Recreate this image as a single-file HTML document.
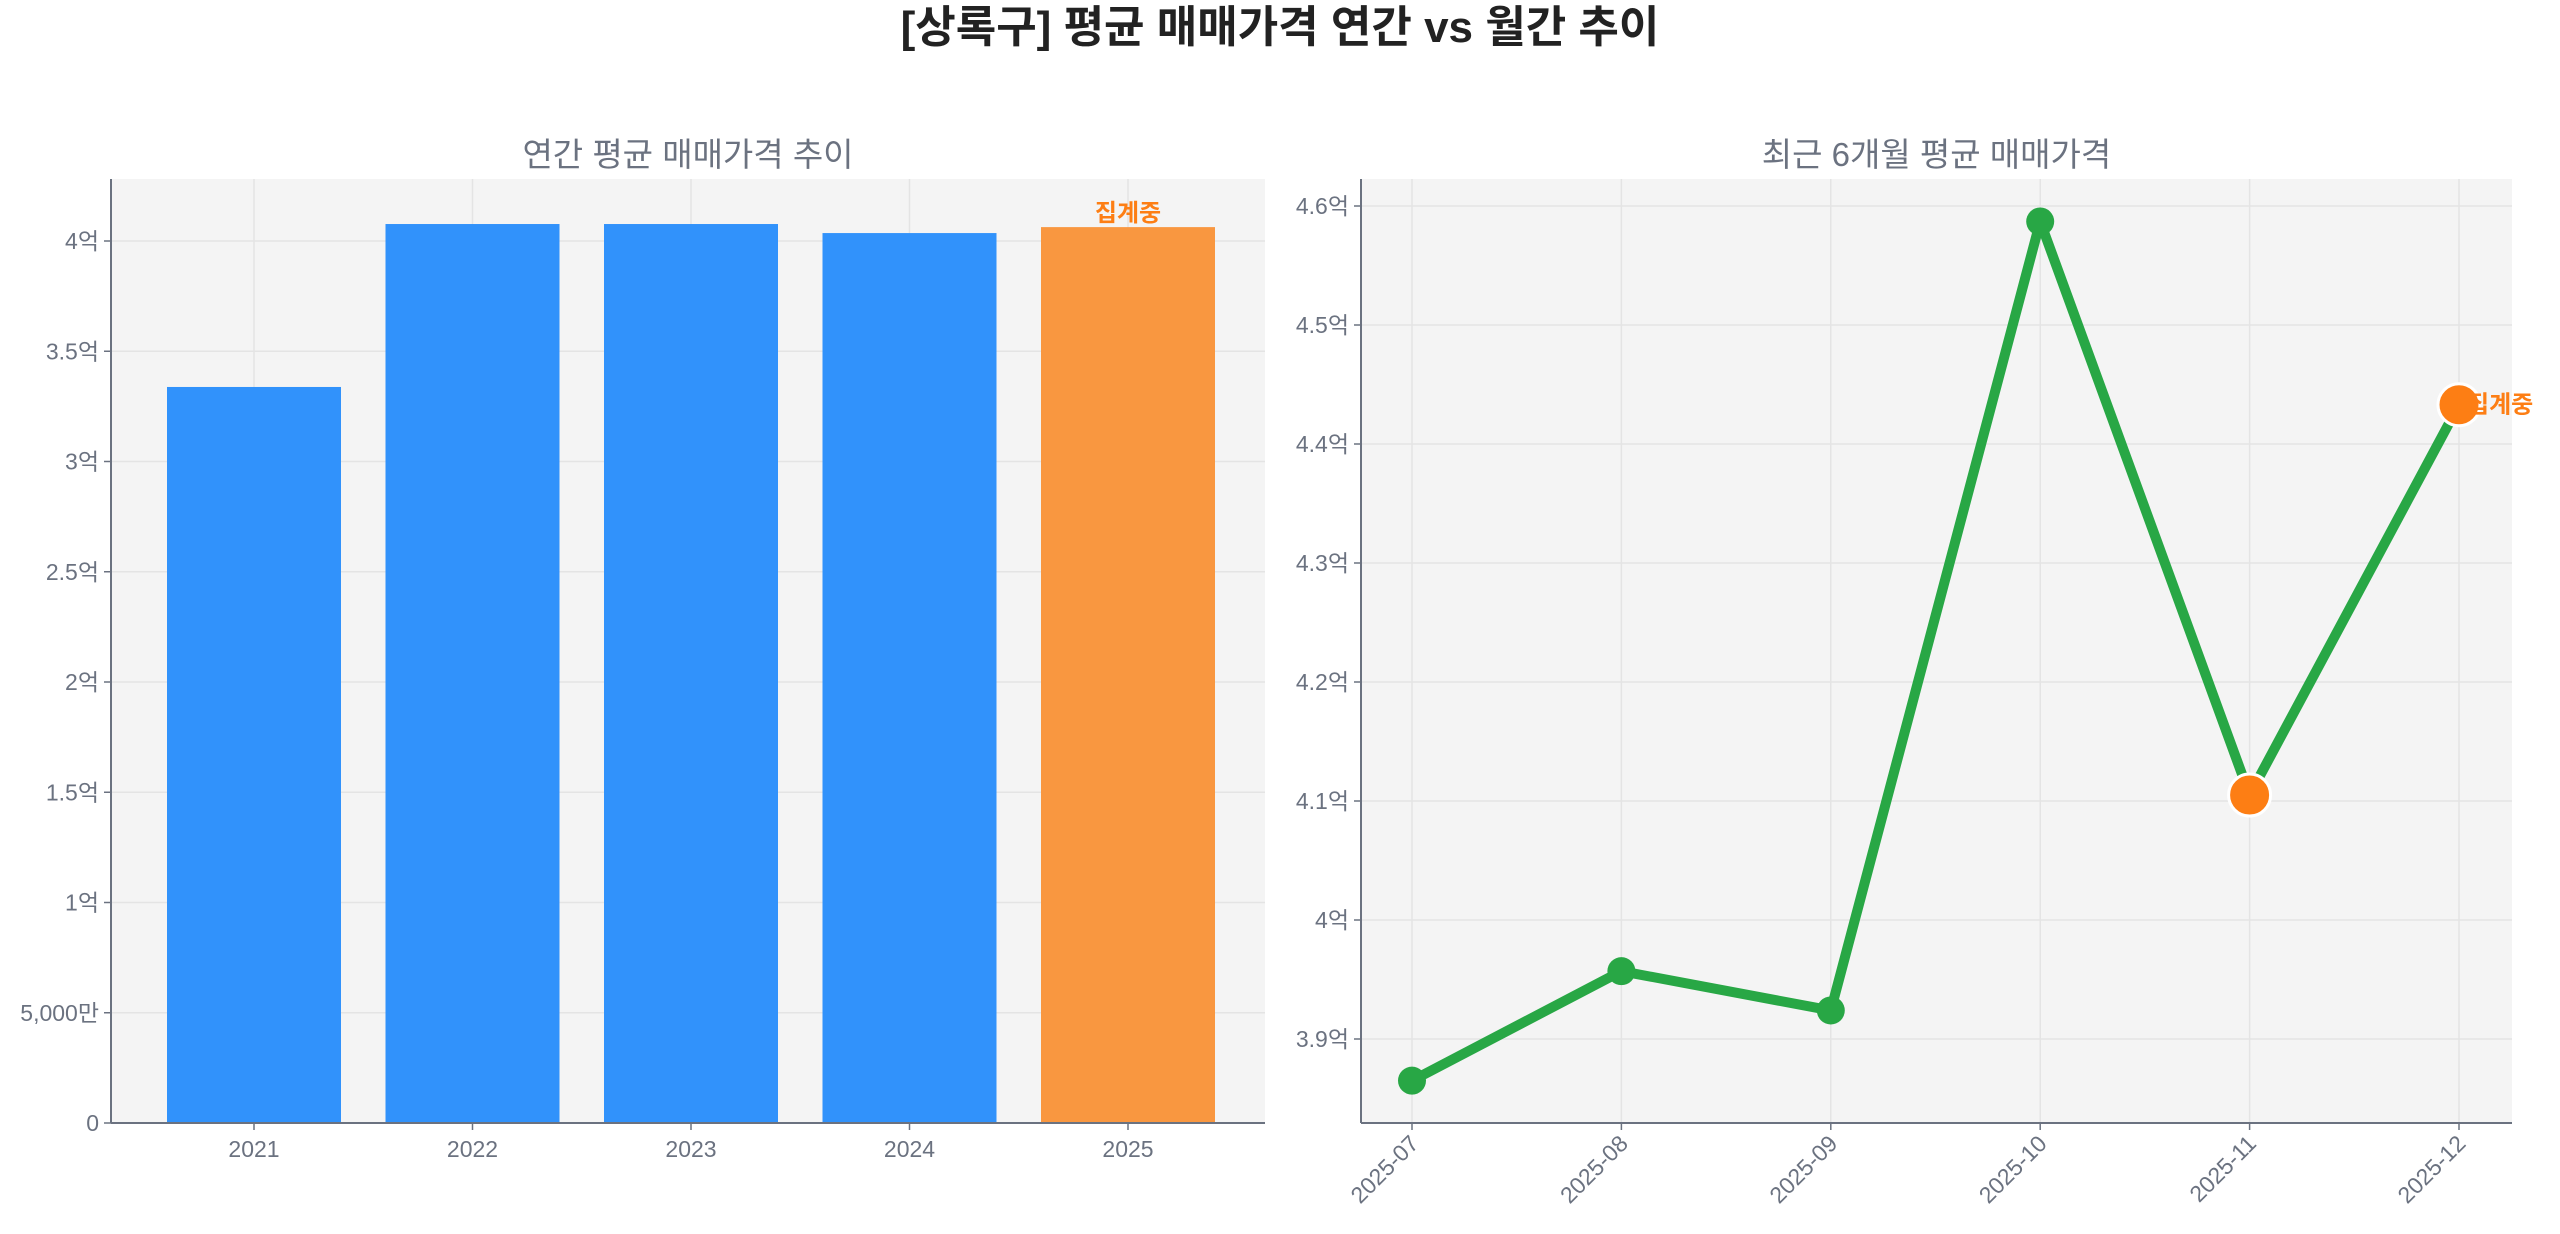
<!DOCTYPE html>
<html><head><meta charset="utf-8"><style>
html,body{margin:0;padding:0;background:#fff;width:2560px;height:1234px;overflow:hidden}
text{font-family:"Liberation Sans","Noto Sans CJK KR",sans-serif}
</style></head><body>
<svg id="chart" width="2560" height="1234" xmlns="http://www.w3.org/2000/svg"></svg>
<script>
const yearCats=["2021","2022","2023","2024","2025"];
const yearVals=[3.338,4.077,4.077,4.036,4.063];
const yearTicks=[0,0.5,1,1.5,2,2.5,3,3.5,4];
const yearTickLabels=["0","5,000만","1억","1.5억","2억","2.5억","3억","3.5억","4억"];
const monthCats=["2025-07","2025-08","2025-09","2025-10","2025-11","2025-12"];
const monthVals=[3.865,3.957,3.924,4.587,4.105,4.433];
const monthPartial=[false,false,false,false,true,true];
const monthTicks=[3.9,4.0,4.1,4.2,4.3,4.4,4.5,4.6];
const monthTickLabels=["3.9억","4억","4.1억","4.2억","4.3억","4.4억","4.5억","4.6억"];

const svg=document.getElementById('chart');
const NS="http://www.w3.org/2000/svg";
function el(tag,attrs,parent){const e=document.createElementNS(NS,tag);for(const k in attrs)e.setAttribute(k,attrs[k]);(parent||svg).appendChild(e);return e;}
function txt(s,attrs,parent){const t=el('text',attrs,parent);t.textContent=s;return t;}

const title=txt("[상록구] 평균 매매가격 연간 vs 월간 추이",{x:1280,y:42,'text-anchor':'middle','font-size':44,'font-weight':'bold',fill:'#222'});



// LEFT
const L={x0:111,x1:1265,y0:179,y1:1123};
const lx=i=>254+i*218.5;
const ly=v=>L.y1-v*220.5;
const g1=el('g',{});


el('rect',{x:L.x0,y:L.y0,width:L.x1-L.x0,height:L.y1-L.y0,fill:'#f4f4f4'},g1);
yearTicks.forEach((v,i)=>{
  el('line',{x1:L.x0,x2:L.x1,y1:ly(v),y2:ly(v),stroke:'#e4e4e4','stroke-width':1.5},g1);
  el('line',{x1:L.x0-7,x2:L.x0,y1:ly(v),y2:ly(v),stroke:'#6b7280','stroke-width':1.5},g1);
  const t=txt(yearTickLabels[i],{x:L.x0-12,y:ly(v)+8,'text-anchor':'end','font-size':23,fill:'#6b7280'},g1);
  
  
});
yearCats.forEach((c,i)=>{
  el('line',{x1:lx(i),x2:lx(i),y1:L.y0,y2:L.y1,stroke:'#e4e4e4','stroke-width':1.5},g1);
});
yearCats.forEach((c,i)=>{
  const b=el('rect',{x:lx(i)-87,y:ly(yearVals[i]),width:174,height:L.y1-ly(yearVals[i]),fill:i===4?'#f99740':'#3192fb'},g1);
  
  
  el('line',{x1:lx(i),x2:lx(i),y1:L.y1,y2:L.y1+7,stroke:'#6b7280','stroke-width':1.5},g1);
  const t=txt(c,{x:lx(i),y:L.y1+34,'text-anchor':'middle','font-size':23,fill:'#6b7280'},g1);
  
  
});
const a1=txt("집계중",{x:lx(4),y:ly(yearVals[4])-6,'text-anchor':'middle','font-size':24,'font-weight':'bold',fill:'#fd7e14'},g1);


el('line',{x1:L.x0,x2:L.x0,y1:L.y0,y2:L.y1,stroke:'#6b7280','stroke-width':2},g1);
el('line',{x1:L.x0,x2:L.x1,y1:L.y1,y2:L.y1,stroke:'#6b7280','stroke-width':2},g1);
const st1=txt("연간 평균 매매가격 추이",{x:(L.x0+L.x1)/2,y:166,'text-anchor':'middle','font-size':33,fill:'#6b7280'},g1);



// RIGHT
const R={x0:1361,x1:2512,y0:179,y1:1123};
const rx=i=>1412+i*209.4;
const ry=v=>206+(4.6-v)*1190;
const g2=el('g',{});


el('rect',{x:R.x0,y:R.y0,width:R.x1-R.x0,height:R.y1-R.y0,fill:'#f4f4f4'},g2);
monthTicks.forEach((v,i)=>{
  el('line',{x1:R.x0,x2:R.x1,y1:ry(v),y2:ry(v),stroke:'#e4e4e4','stroke-width':1.5},g2);
  el('line',{x1:R.x0-7,x2:R.x0,y1:ry(v),y2:ry(v),stroke:'#6b7280','stroke-width':1.5},g2);
  const t=txt(monthTickLabels[i],{x:R.x0-12,y:ry(v)+8,'text-anchor':'end','font-size':23,fill:'#6b7280'},g2);
  
  
});
monthCats.forEach((c,i)=>{
  el('line',{x1:rx(i),x2:rx(i),y1:R.y0,y2:R.y1,stroke:'#e4e4e4','stroke-width':1.5},g2);
  el('line',{x1:rx(i),x2:rx(i),y1:R.y1,y2:R.y1+7,stroke:'#6b7280','stroke-width':1.5},g2);
  const t=txt(c,{x:rx(i)+8,y:R.y1+22,'text-anchor':'end','font-size':23,fill:'#6b7280',transform:`rotate(-45 ${rx(i)+8} ${R.y1+22})`},g2);
  
  
});
const line=el('polyline',{points:monthVals.map((v,i)=>rx(i)+','+ry(v)).join(' '),fill:'none',stroke:'#28a745','stroke-width':10,'stroke-linejoin':'round'},g2);


monthVals.forEach((v,i)=>{
  if(monthPartial[i]){
    const p=el('circle',{cx:rx(i),cy:ry(v),r:21,fill:'#fd7e14',stroke:'#fff','stroke-width':3},g2);
    
    
  } else {
    const p=el('circle',{cx:rx(i),cy:ry(v),r:14,fill:'#28a745'},g2);
    
    
  }
});
const a2=txt("집계중",{x:rx(5)+8,y:ry(monthVals[5])+8,'text-anchor':'start','font-size':24,'font-weight':'bold',fill:'#fd7e14'},g2);


el('line',{x1:R.x0,x2:R.x0,y1:R.y0,y2:R.y1,stroke:'#6b7280','stroke-width':2},g2);
el('line',{x1:R.x0,x2:R.x1,y1:R.y1,y2:R.y1,stroke:'#6b7280','stroke-width':2},g2);
const st2=txt("최근 6개월 평균 매매가격",{x:(R.x0+R.x1)/2,y:166,'text-anchor':'middle','font-size':33,fill:'#6b7280'},g2);


</script>
</body></html>
